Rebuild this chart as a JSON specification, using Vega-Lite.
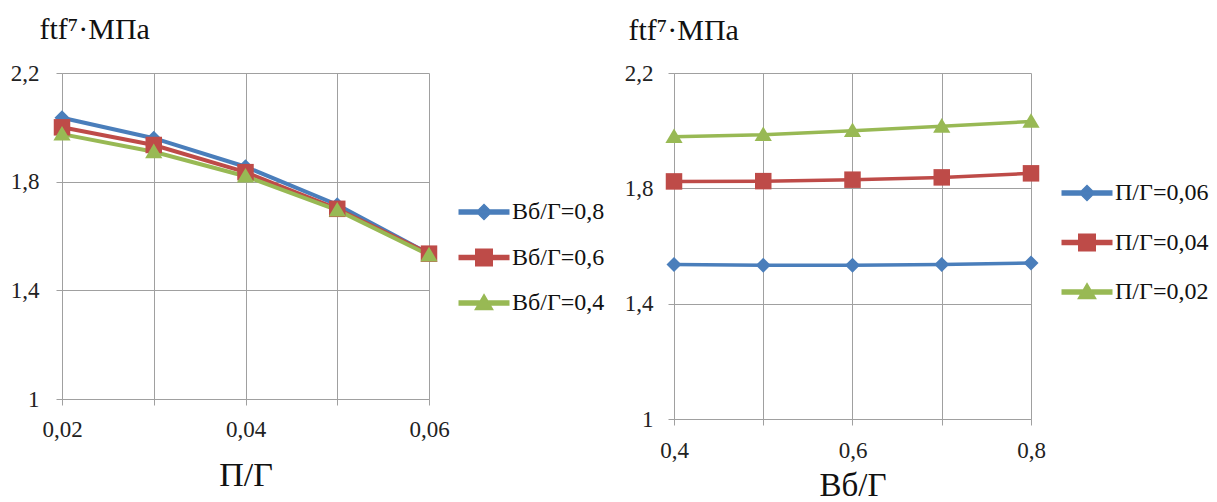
{
  "$schema": "https://vega.github.io/schema/vega-lite/v6.json",
  "background": "white",
  "padding": {"left": 10, "top": 14, "right": 0, "bottom": 0},
  "bounds": "flush",
  "spacing": 245,
  "config": {
    "view": {"stroke": null},
    "font": "Liberation Serif",
    "axis": {
      "gridColor": "#a0a0a0", "gridWidth": 1, "gridOpacity": 1,
      "domainColor": "#a0a0a0", "domainWidth": 1,
      "tickColor": "#a0a0a0", "tickSize": 6,
      "labelFont": "Liberation Serif", "labelFontSize": 23, "labelColor": "#222",
      "titleFont": "Liberation Serif", "titleColor": "#111", "titleFontWeight": "normal",
      "labelFlush": false, "labelOverlap": false
    },
    "legend": {
      "labelFont": "Liberation Serif", "labelFontSize": 24, "labelColor": "#111",
      "symbolSize": 225, "padding": 0, "symbolOpacity": 1
    }
  },
  "datasets": {
    "left": [
      {"pg": 0.02, "f": 2.035, "s": "Вб/Г=0,8"},
      {"pg": 0.03, "f": 1.96, "s": "Вб/Г=0,8"},
      {"pg": 0.04, "f": 1.855, "s": "Вб/Г=0,8"},
      {"pg": 0.05, "f": 1.715, "s": "Вб/Г=0,8"},
      {"pg": 0.06, "f": 1.535, "s": "Вб/Г=0,8"},
      {"pg": 0.02, "f": 2.0, "s": "Вб/Г=0,6"},
      {"pg": 0.03, "f": 1.935, "s": "Вб/Г=0,6"},
      {"pg": 0.04, "f": 1.835, "s": "Вб/Г=0,6"},
      {"pg": 0.05, "f": 1.70, "s": "Вб/Г=0,6"},
      {"pg": 0.06, "f": 1.535, "s": "Вб/Г=0,6"},
      {"pg": 0.02, "f": 1.975, "s": "Вб/Г=0,4"},
      {"pg": 0.03, "f": 1.91, "s": "Вб/Г=0,4"},
      {"pg": 0.04, "f": 1.82, "s": "Вб/Г=0,4"},
      {"pg": 0.05, "f": 1.695, "s": "Вб/Г=0,4"},
      {"pg": 0.06, "f": 1.53, "s": "Вб/Г=0,4"}
    ],
    "right": [
      {"vg": 0.4, "f": 1.536, "s": "П/Г=0,06"},
      {"vg": 0.5, "f": 1.533, "s": "П/Г=0,06"},
      {"vg": 0.6, "f": 1.533, "s": "П/Г=0,06"},
      {"vg": 0.7, "f": 1.536, "s": "П/Г=0,06"},
      {"vg": 0.8, "f": 1.541, "s": "П/Г=0,06"},
      {"vg": 0.4, "f": 1.824, "s": "П/Г=0,04"},
      {"vg": 0.5, "f": 1.825, "s": "П/Г=0,04"},
      {"vg": 0.6, "f": 1.83, "s": "П/Г=0,04"},
      {"vg": 0.7, "f": 1.838, "s": "П/Г=0,04"},
      {"vg": 0.8, "f": 1.852, "s": "П/Г=0,04"},
      {"vg": 0.4, "f": 1.979, "s": "П/Г=0,02"},
      {"vg": 0.5, "f": 1.986, "s": "П/Г=0,02"},
      {"vg": 0.6, "f": 2.0, "s": "П/Г=0,02"},
      {"vg": 0.7, "f": 2.015, "s": "П/Г=0,02"},
      {"vg": 0.8, "f": 2.032, "s": "П/Г=0,02"}
    ]
  },
  "resolve": {
    "scale": {"color": "independent", "shape": "independent"},
    "legend": {"color": "independent", "shape": "independent"}
  },
  "hconcat": [
    {
      "width": 367,
      "height": 326,
      "data": {"name": "left"},
      "encoding": {
        "x": {
          "field": "pg", "type": "quantitative",
          "scale": {"domain": [0.02, 0.06], "nice": false, "zero": false},
          "axis": {
            "values": [0.02, 0.03, 0.04, 0.05, 0.06],
            "labelExpr": "datum.value == 0.03 || datum.value == 0.05 ? '' : replace(format(datum.value, '.2f'), '.', ',')",
            "labelFont": "Liberation Serif",
            "labelPadding": 13,
            "title": "П/Г", "titleFontSize": 34, "titlePadding": 17
          }
        },
        "y": {
          "field": "f", "type": "quantitative",
          "scale": {"domain": [1, 2.2], "nice": false, "zero": false},
          "axis": {
            "values": [1, 1.4, 1.8, 2.2],
            "labelExpr": "replace(format(datum.value, '~g'), '.', ',')",
            "labelFont": "Liberation Serif",
            "labelPadding": 17,
            "title": "ftf⁷·МПа", "titleFontSize": 30, "titleAngle": 0,
            "titleAlign": "left", "titleBaseline": "alphabetic",
            "titleX": -23, "titleY": -35
          }
        },
        "color": {
          "field": "s", "type": "nominal",
          "scale": {"domain": ["Вб/Г=0,8", "Вб/Г=0,6", "Вб/Г=0,4"], "range": ["#4a7ebb", "#be4b48", "#98b954"]},
          "legend": {
            "title": null, "orient": "none", "legendX": 410, "legendY": 127,
            "labelOffset": 16, "rowPadding": 21.5, "symbolOpacity": 1
          }
        }
      },
      "layer": [
        {"mark": {"type": "line", "strokeWidth": 4}},
        {
          "mark": {"type": "point", "filled": true, "size": 225, "opacity": 0},
          "encoding": {
            "shape": {
              "field": "s", "type": "nominal",
              "scale": {"domain": ["Вб/Г=0,8", "Вб/Г=0,6", "Вб/Г=0,4"], "range": ["M-3.3,-0.27H3.3V0.27H-3.3ZM0,-1L1,0L0,1L-1,0Z", "M-3.3,-0.27H3.3V0.27H-3.3ZM-1.1,-1.1H1.1V1.1H-1.1Z", "M-3.3,-0.27H3.3V0.27H-3.3ZM0,-1.1L1.15,0.85H-1.15Z"]},
              "legend": null
            }
          }
        },
        {
          "transform": [{"filter": "datum.s == 'Вб/Г=0,8'"}],
          "mark": {"type": "point", "filled": true, "size": 225, "opacity": 1, "shape": "M0,-1L1,0L0,1L-1,0Z"}
        },
        {
          "transform": [{"filter": "datum.s == 'Вб/Г=0,6'"}],
          "mark": {"type": "point", "filled": true, "size": 225, "opacity": 1, "shape": "M-1.1,-1.1H1.1V1.1H-1.1Z"}
        },
        {
          "transform": [{"filter": "datum.s == 'Вб/Г=0,4'"}],
          "mark": {"type": "point", "filled": true, "size": 225, "opacity": 1, "shape": "M0,-1.1L1.15,0.85H-1.15Z"}
        }
      ]
    },
    {
      "width": 357,
      "height": 346,
      "data": {"name": "right"},
      "encoding": {
        "x": {
          "field": "vg", "type": "quantitative",
          "scale": {"domain": [0.4, 0.8], "nice": false, "zero": false},
          "axis": {
            "values": [0.4, 0.5, 0.6, 0.7, 0.8],
            "labelExpr": "datum.value == 0.5 || datum.value == 0.7 ? '' : replace(format(datum.value, '.1f'), '.', ',')",
            "labelFont": "Liberation Serif",
            "labelPadding": 14,
            "title": "Вб/Г", "titleFontSize": 33, "titlePadding": 7
          }
        },
        "y": {
          "field": "f", "type": "quantitative",
          "scale": {"domain": [1, 2.2], "nice": false, "zero": false},
          "axis": {
            "values": [1, 1.4, 1.8, 2.2],
            "labelExpr": "replace(format(datum.value, '~g'), '.', ',')",
            "labelFont": "Liberation Serif",
            "labelPadding": 15,
            "title": "ftf⁷·МПа", "titleFontSize": 30, "titleAngle": 0,
            "titleAlign": "left", "titleBaseline": "alphabetic",
            "titleX": -46, "titleY": -34
          }
        },
        "color": {
          "field": "s", "type": "nominal",
          "scale": {"domain": ["П/Г=0,06", "П/Г=0,04", "П/Г=0,02"], "range": ["#4a7ebb", "#be4b48", "#98b954"]},
          "legend": {
            "title": null, "orient": "none", "legendX": 401, "legendY": 108,
            "labelOffset": 16, "rowPadding": 25.5, "symbolOpacity": 1
          }
        }
      },
      "layer": [
        {"mark": {"type": "line", "strokeWidth": 3.5}},
        {
          "mark": {"type": "point", "filled": true, "size": 225, "opacity": 0},
          "encoding": {
            "shape": {
              "field": "s", "type": "nominal",
              "scale": {"domain": ["П/Г=0,06", "П/Г=0,04", "П/Г=0,02"], "range": ["M-3.3,-0.27H3.3V0.27H-3.3ZM0,-1L1,0L0,1L-1,0Z", "M-3.3,-0.27H3.3V0.27H-3.3ZM-1.1,-1.1H1.1V1.1H-1.1Z", "M-3.3,-0.27H3.3V0.27H-3.3ZM0,-1.1L1.15,0.85H-1.15Z"]},
              "legend": null
            }
          }
        },
        {
          "transform": [{"filter": "datum.s == 'П/Г=0,06'"}],
          "mark": {"type": "point", "filled": true, "size": 225, "opacity": 1, "shape": "M0,-1L1,0L0,1L-1,0Z"}
        },
        {
          "transform": [{"filter": "datum.s == 'П/Г=0,04'"}],
          "mark": {"type": "point", "filled": true, "size": 225, "opacity": 1, "shape": "M-1.1,-1.1H1.1V1.1H-1.1Z"}
        },
        {
          "transform": [{"filter": "datum.s == 'П/Г=0,02'"}],
          "mark": {"type": "point", "filled": true, "size": 225, "opacity": 1, "shape": "M0,-1.1L1.15,0.85H-1.15Z"}
        }
      ]
    }
  ]
}
